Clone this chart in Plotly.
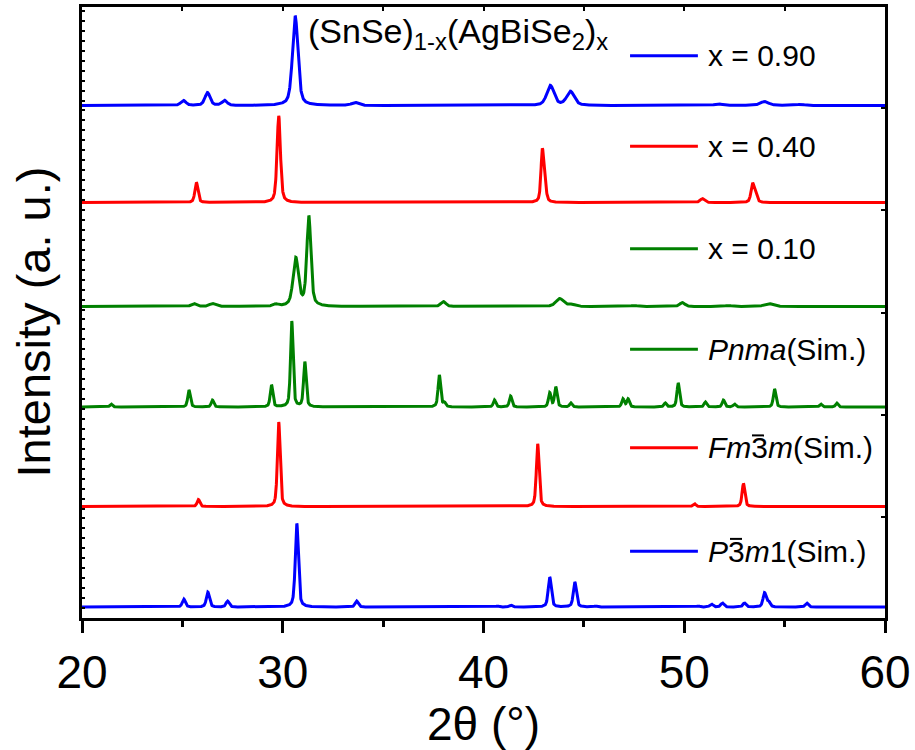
import numpy as np
import plotly.graph_objects as go

# ---------------- data ----------------
two_theta_range = [20, 60]

labels = ["x = 0.90", "x = 0.40", "x = 0.10",
          "<i>Pnma</i>(Sim.)", "<i>Fm</i>3<i>m</i>(Sim.)", "<i>P</i>3<i>m</i>1(Sim.)"]
colors = ["#0000FF", "#FF0000", "#008000", "#008000", "#FF0000", "#0000FF"]

# vertical offsets of each pattern (arb. units)
offsets = [515, 417.5, 313, 212, 112, 11]

# peak positions (2theta, deg), peak heights (arb. u.), FWHM (deg)
x90_pos = [25.05, 26.25, 27.1, 30.62, 33.6, 43.33, 44.33, 51.7, 54.0, 55.8]
x90_int = [5, 13, 5, 90, 3, 20, 14, 1.5, 4, 1]
x90_fwhm = [0.3, 0.3, 0.3, 0.32, 0.4, 0.42, 0.45, 0.5, 0.5, 0.5]

x40_pos = [25.7, 29.8, 42.93, 43.06, 50.9, 53.4, 53.55]
x40_int = [20, 87, 51, 16, 4, 18, 8]
x40_fwhm = [0.18, 0.2, 0.16, 0.16, 0.25, 0.18, 0.18]

x10_pos = [25.57, 26.5, 29.65, 30.65, 31.3, 38.0, 43.8, 44.4, 47.5, 49.9, 52.2, 54.2]
x10_int = [3, 3, 2, 48, 90, 5, 8, 2, 1, 4, 1, 3]
x10_fwhm = [0.3, 0.35, 0.3, 0.32, 0.24, 0.3, 0.45, 0.4, 0.5, 0.3, 0.5, 0.5]

pnma_pos = [21.45, 25.33, 26.5, 29.44, 30.45, 31.1, 37.8, 38.05, 40.55, 41.35, 43.3, 43.6,
            44.35, 46.95, 47.2, 49.05, 49.7, 51.05, 51.95, 52.5, 54.5, 56.8, 57.6]
pnma_int = [3, 17, 7, 22, 86, 45, 32, 4, 7, 11, 14, 20, 4, 8, 8, 4, 24, 5, 7, 3, 18, 3, 4]
pnma_fwhm = [0.15] * len(pnma_pos)

fm3m_pos = [25.8, 29.8, 42.7, 50.5, 52.95]
fm3m_int = [7, 85, 63, 3, 23]
fm3m_fwhm = [0.16, 0.16, 0.16, 0.16, 0.16]

p3m1_pos = [25.07, 26.27, 27.25, 30.7, 33.68, 40.7, 41.35, 43.3, 44.55, 45.6,
            50.7, 51.35, 51.9, 53.0, 54.0, 54.2, 56.1]
p3m1_int = [8, 15, 6, 84, 6, 1, 2, 30, 25, 1, 1, 3, 4, 4, 14, 5, 4]
p3m1_fwhm = [0.18] * len(p3m1_pos)

peaks = [(x90_pos, x90_int, x90_fwhm), (x40_pos, x40_int, x40_fwhm),
         (x10_pos, x10_int, x10_fwhm), (pnma_pos, pnma_int, pnma_fwhm),
         (fm3m_pos, fm3m_int, fm3m_fwhm), (p3m1_pos, p3m1_int, p3m1_fwhm)]

# legend label y positions (arb. u.)
legend_y = [565, 474, 371, 270, 171, 67]

title_text = "(SnSe)<sub>1-x</sub>(AgBiSe<sub>2</sub>)<sub>x</sub>"

# ---------------- build profiles ----------------
tt = np.linspace(two_theta_range[0], two_theta_range[1], 4001)


def profile(pos, inten, fwhm, eta=0.5):
    y = np.zeros_like(tt)
    for p, h, w in zip(pos, inten, fwhm):
        g = np.exp(-4 * np.log(2) * ((tt - p) / w) ** 2)
        l = 1.0 / (1.0 + 4 * ((tt - p) / w) ** 2)
        y += h * (eta * l + (1 - eta) * g)
    return y


fig = go.Figure()
font_family = "Liberation Sans, Arial, sans-serif"

for (pos, inten, fw), off, col in zip(peaks, offsets, colors):
    fig.add_trace(go.Scatter(x=tt, y=profile(pos, inten, fw) + off, mode="lines",
                             line=dict(color=col, width=3), showlegend=False,
                             hoverinfo="skip"))

# helper trace on secondary axes (top / right ticks)
fig.add_trace(go.Scatter(x=[None], y=[None], xaxis="x2", yaxis="y2", showlegend=False))

# manual legend
for lab, col, ly in zip(labels, colors, legend_y):
    fig.add_shape(type="line", xref="x", yref="y", x0=47.3, x1=50.68, y0=ly, y1=ly,
                  line=dict(color=col, width=3))
    fig.add_annotation(x=51.1, y=ly, xref="x", yref="y", text=lab, showarrow=False,
                       xanchor="left", yanchor="middle",
                       font=dict(family=font_family, size=30, color="black"))

# bars over the "3" of the space-group symbols (rotoinversion notation)
fig.add_shape(type="line", xref="paper", yref="y",
              x0=(752 - 82) / 803, x1=(764 - 82) / 803, y0=183.5, y1=183.5,
              line=dict(color="black", width=2))
fig.add_shape(type="line", xref="paper", yref="y",
              x0=(730 - 82) / 803, x1=(742 - 82) / 803, y0=79.5, y1=79.5,
              line=dict(color="black", width=2))

fig.add_annotation(x=31.16, y=587, xref="x", yref="y", text=title_text, showarrow=False,
                   xanchor="left", yanchor="middle",
                   font=dict(family=font_family, size=34, color="black"))

# y-axis title
fig.add_annotation(x=(33 - 82) / 803, y=(618 - 321) / 614, xref="paper", yref="paper",
                   text="Intensity (a. u.)", textangle=-90, showarrow=False,
                   xanchor="center", yanchor="middle",
                   font=dict(family=font_family, size=47, color="black"))

fig.update_layout(
    width=915, height=750,
    margin=dict(l=82, r=30, t=4, b=132),
    paper_bgcolor="white", plot_bgcolor="white",
    font=dict(family=font_family, color="black"),
    xaxis=dict(range=two_theta_range, dtick=10, ticks="outside", ticklen=12, tickwidth=3,
               tickcolor="black", showline=True, linewidth=3, linecolor="black",
               mirror=True, showgrid=False, zeroline=False,
               tickfont=dict(size=46, family=font_family),
               minor=dict(dtick=5, ticks="outside", ticklen=6, tickwidth=3, tickcolor="black"),
               title=dict(text="2θ (°)", font=dict(size=46, family=font_family), standoff=11)),
    yaxis=dict(range=[0, 614], showticklabels=False, ticks="inside", dtick=10, ticklen=3,
               tickwidth=1.5, tickcolor="black", showline=True, linewidth=3,
               linecolor="black", mirror=True, showgrid=False, zeroline=False),
    xaxis2=dict(range=two_theta_range, overlaying="x", side="top", dtick=5, ticks="inside",
                ticklen=4, tickwidth=2, tickcolor="black", showticklabels=False,
                showgrid=False, zeroline=False),
    yaxis2=dict(range=[0, 614], overlaying="y", side="right", tick0=-2, dtick=103,
                ticks="inside", ticklen=4, tickwidth=2, tickcolor="black",
                showticklabels=False, showgrid=False, zeroline=False),
)

fig.write_html("out.html")
